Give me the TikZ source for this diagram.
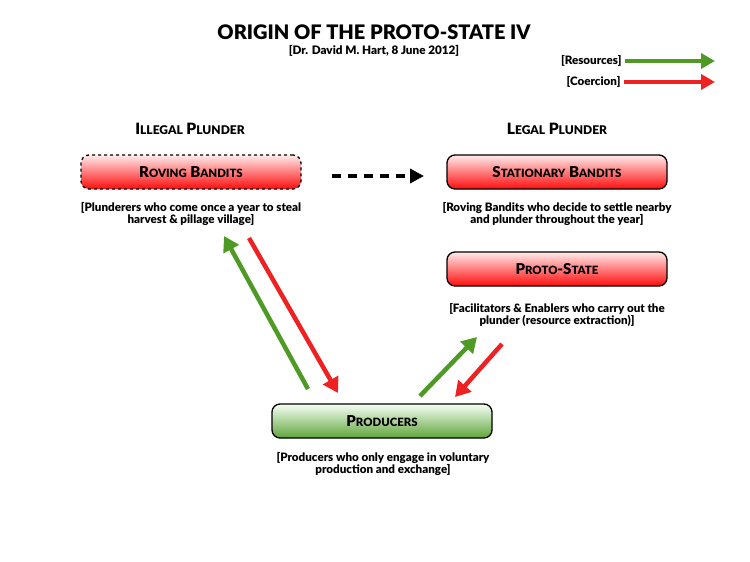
\documentclass[tikz,border=0pt]{standalone}
\usepackage{fontspec}
\setmainfont{Lato}[BoldFont={Lato Black}]
\usetikzlibrary{arrows.meta,positioning}
\definecolor{resgreen}{HTML}{4E9A24}
\definecolor{coered}{HTML}{EE2222}
\newcommand{\sml}[1]{{\fontsize{11.4}{12}\selectfont #1}}
\tikzset{
  redbox/.style={draw,line width=1.3pt,rounded corners=8pt,minimum width=220pt,minimum height=34pt,
    top color=red!8,bottom color=red!95,font=\bfseries\fontsize{15}{16}\selectfont},
  greenbox/.style={redbox,top color=green!4,bottom color=resgreen!90},
  note/.style={align=center,font=\bfseries\fontsize{11.6}{12.2}\selectfont},
  res/.style={draw=resgreen,line width=4.5pt,-{Triangle[length=15pt,width=17pt]}},
  coe/.style={draw=coered,line width=4.5pt,-{Triangle[length=15pt,width=17pt]}},
}
\begin{document}
\begin{tikzpicture}[x=1pt,y=-1pt]
\useasboundingbox (0,0) rectangle (750,562);
% title
\node[font=\bfseries\fontsize{20}{22}\selectfont] (title) at (374,32) {ORIGIN OF THE PROTO-STATE IV};
\node[font=\bfseries\fontsize{11.7}{12}\selectfont] (sub) at (374,51) {[Dr. David M. Hart, 8 June 2012]};
% legend
\node[note,anchor=east] (lres) at (625,61) {[Resources]};
\node[note,anchor=east] (lcoe) at (624,82) {[Coercion]};
\coordinate (lresend) at (715,61);
\coordinate (lcoeend) at (715,82);
\draw[res,line width=4pt,-{Triangle[length=14pt,width=15pt]}] (lres.east) -- (lresend);
\draw[coe,line width=4pt,-{Triangle[length=14pt,width=15pt]}] (lcoe.east) -- (lcoeend);
% column heads
\node[font=\bfseries\fontsize{15.6}{16}\selectfont] (illegal) at (190,129) {I{\fontsize{12}{12}\selectfont LLEGAL} P{\fontsize{12}{12}\selectfont LUNDER}};
\node[font=\bfseries\fontsize{15.6}{16}\selectfont] (legal) at (557,129) {L{\fontsize{12}{12}\selectfont EGAL} P{\fontsize{12}{12}\selectfont LUNDER}};
% boxes
\node[redbox,dashed] (RB) at (191,172) {R\sml{OVING} B\sml{ANDITS}};
\node[redbox] (SB) at (557,172) {S\sml{TATIONARY} B\sml{ANDITS}};
\node[redbox] (PS) at (557,269) {P\sml{ROTO}-S\sml{TATE}};
\node[greenbox] (PR) at (382,421) {P\sml{RODUCERS}};
% notes
\node[note] (RBn) at (191,214) {[Plunderers who come once a year to steal\\harvest \& pillage village]};
\node[note] (SBn) at (557,214) {[Roving Bandits who decide to settle nearby\\and plunder throughout the year]};
\node[note] (PSn) at (557,315) {[Facilitators \& Enablers who carry out the\\plunder (resource extraction)]};
\node[note] (PRn) at (383,464) {[Producers who only engage in voluntary\\production and exchange]};
% flows
\coordinate (dA) at (332,176);
\coordinate (dB) at (424,176);
\draw[line width=3.5pt,dash pattern=on 9pt off 7pt,-{Triangle[length=14pt,width=14pt]}] (dA) -- (dB);
\coordinate (g1a) at (308,389);
\coordinate (g1b) at (224,236);
\coordinate (r1a) at (249,238);
\coordinate (r1b) at (338,393);
\coordinate (g2a) at (420,396);
\coordinate (g2b) at (477,337);
\coordinate (r2a) at (502,344);
\coordinate (r2b) at (455,397);
\draw[res] (g1a) -- (g1b);
\draw[coe] (r1a) -- (r1b);
\draw[res] (g2a) -- (g2b);
\draw[coe] (r2a) -- (r2b);
\end{tikzpicture}
\end{document}
